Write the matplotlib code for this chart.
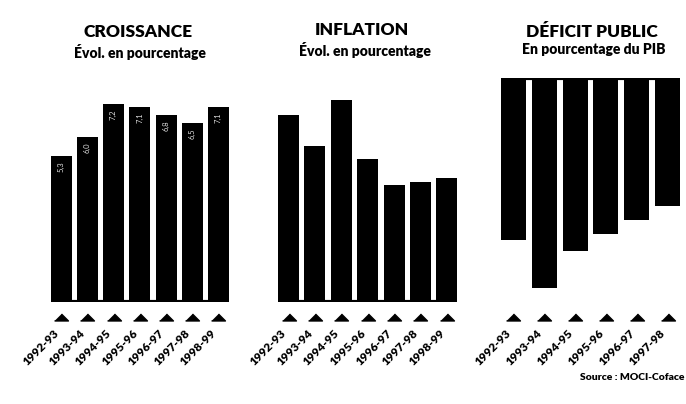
import matplotlib
matplotlib.use("Agg")
import matplotlib.pyplot as plt
import matplotlib.transforms as mtransforms

# ---- data ----
years_7 = ["1992-93", "1993-94", "1994-95", "1995-96", "1996-97", "1997-98", "1998-99"]
years_6 = ["1992-93", "1993-94", "1994-95", "1995-96", "1996-97", "1997-98"]
croissance = [5.3, 6.0, 7.2, 7.1, 6.8, 6.5, 7.1]
inflation = [10.1, 8.4, 10.9, 7.7, 6.3, 6.5, 6.7]
deficit = [-5.7, -7.4, -6.1, -5.5, -5.0, -4.5]

titles = ["CROISSANCE", "INFLATION", "DÉFICIT PUBLIC"]
subtitles = ["Évol. en pourcentage", "Évol. en pourcentage", "En pourcentage du PIB"]
source = "Source : MOCI-Coface"

W, H = 686, 404
fig = plt.figure(figsize=(W / 100, H / 100), dpi=100)
fig.patch.set_facecolor("white")
FONT = ["Lato", "DejaVu Sans"]

def px_axes(left, top, width, height):
    return fig.add_axes([left / W, 1 - (top + height) / H, width / W, height / H])

# axes placement in pixels (left, top, width, height)
ax_c = px_axes(45.25, 78, 189, 224)
ax_i = px_axes(272.7, 78, 190, 224)
ax_d = px_axes(495, 78, 191, 224)

def style(ax, n, ylim):
    ax.set_xlim(-0.6, n - 0.4)
    ax.set_ylim(*ylim)
    ax.axis("off")

def ticks(ax, labels):
    base = ax.get_xaxis_transform()
    tri = [(-1, -0.5), (1, -0.5), (0, 0.5)]
    for i, lab in enumerate(labels):
        t_tri = base + mtransforms.ScaledTranslation(0, -15 / 100, fig.dpi_scale_trans)
        ax.plot([i], [0], marker=tri, markersize=10, color="black",
                transform=t_tri, clip_on=False, linestyle="none")
        t_lab = base + mtransforms.ScaledTranslation(-4 / 100, -29 / 100, fig.dpi_scale_trans)
        ax.text(i, 0, lab, transform=t_lab, rotation=45, rotation_mode="anchor",
                ha="right", va="center", fontsize=8.5, fontweight="heavy",
                family=FONT, clip_on=False)

# Croissance
x7 = list(range(len(years_7)))
ax_c.bar(x7, croissance, width=0.8, color="black")
ax_c.hlines(0, -0.4, len(x7) - 0.6, color="black", lw=3, capstyle="butt")
for i, v in enumerate(croissance):
    ax_c.text(i, v - 0.2, f"{v:.1f}".replace(".", ","), rotation=90, ha="center",
              va="top", color="#dddddd", fontsize=5.5, family=FONT)
style(ax_c, len(x7), (0, 8.15))
ticks(ax_c, years_7)

# Inflation
ax_i.bar(x7, inflation, width=0.8, color="black")
ax_i.hlines(0, -0.4, len(x7) - 0.6, color="black", lw=3, capstyle="butt")
style(ax_i, len(x7), (0, 12.1))
ticks(ax_i, years_7)

# Deficit
x6 = list(range(len(years_6)))
ax_d.bar(x6, deficit, width=0.81, color="black")
ax_d.hlines(0, -0.4, len(x6) - 0.6, color="black", lw=3, capstyle="butt")
style(ax_d, len(x6), (-7.9, 0.0))
ticks(ax_d, years_6)

# titles
title_pos = [(138, 32, 140, 52), (362, 30, 365, 50), (592, 32, 594, 50)]
for (tx, ty, sx, sy), t, s in zip(title_pos, titles, subtitles):
    fig.text(tx / W, 1 - ty / H, t, ha="center", va="center", fontsize=12.5,
             fontweight="heavy", family=FONT)
    fig.text(sx / W, 1 - sy / H, s, ha="center", va="center", fontsize=10,
             fontweight="heavy", family=FONT)

fig.text(684 / W, 1 - 378 / H, source, ha="right", va="center", fontsize=7.5,
         fontweight="heavy", family=FONT)

fig.savefig("out.png", dpi=100, facecolor="white")
